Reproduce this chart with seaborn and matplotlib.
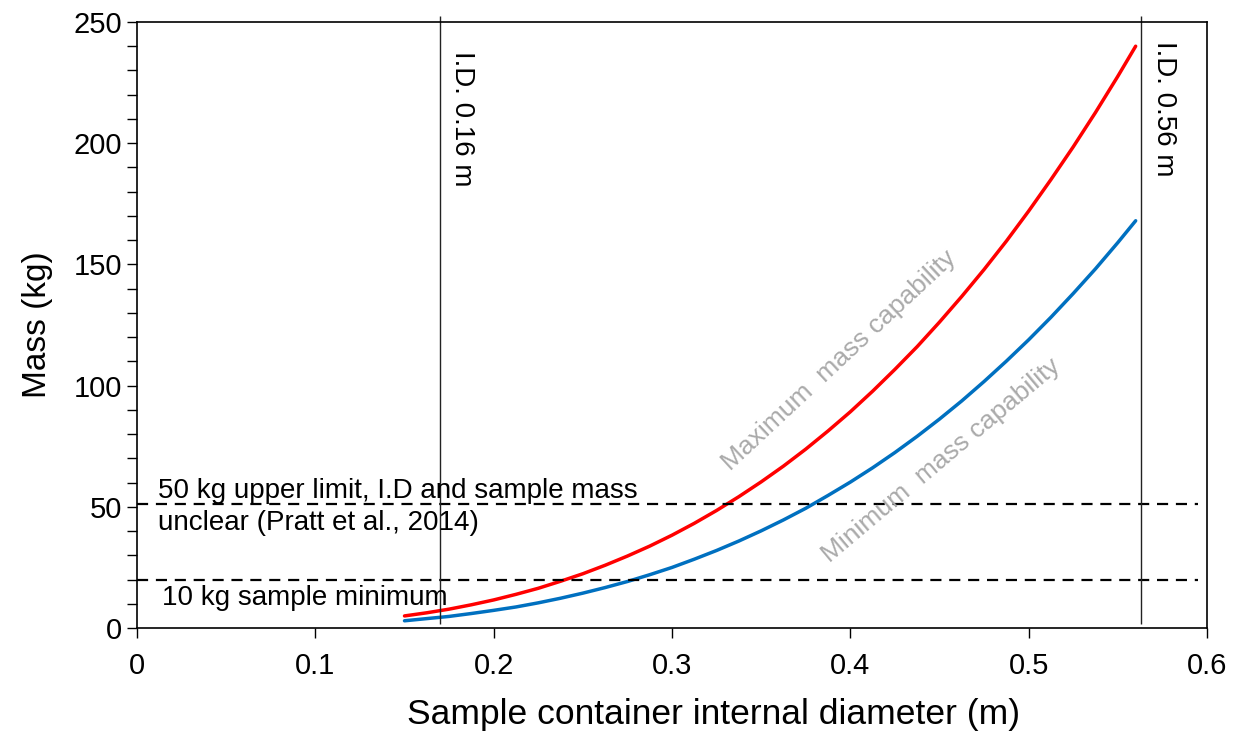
import numpy as np
import pandas as pd
import matplotlib
matplotlib.use('Agg')
import matplotlib.pyplot as plt
from matplotlib.ticker import MultipleLocator, FuncFormatter
import seaborn as sns

# values
diameter = [0.15, 0.1625, 0.175, 0.1875, 0.2, 0.2125, 0.225, 0.2375, 0.25, 0.2625,
            0.275, 0.2875, 0.3, 0.3125, 0.325, 0.3375, 0.35, 0.3625, 0.375, 0.3875,
            0.4, 0.4125, 0.425, 0.4375, 0.45, 0.4625, 0.475, 0.4875, 0.5, 0.5125,
            0.525, 0.5375, 0.55, 0.56]
max_mass = [5.0, 6.3, 7.8, 9.6, 11.6, 13.9, 16.4, 19.3, 22.4, 25.9,
            29.7, 33.8, 38.3, 43.2, 48.5, 54.2, 60.3, 66.8, 73.8, 81.3,
            89.2, 97.7, 106.7, 116.1, 126.2, 136.8, 147.9, 159.6, 172.0, 185.0,
            198.5, 212.7, 227.6, 240.0]
min_mass = [3.0, 3.9, 4.8, 6.0, 7.3, 8.7, 10.4, 12.3, 14.4, 16.7,
            19.2, 22.0, 25.0, 28.4, 32.0, 35.9, 40.1, 44.6, 49.4, 54.7,
            60.2, 66.1, 72.4, 79.1, 86.2, 93.7, 101.7, 110.1, 118.9, 128.2,
            138.0, 148.2, 159.0, 168.0]
id_lines = [0.17, 0.563]
id_labels = ['I.D. 0.16 m', 'I.D. 0.56 m']
limit_lines = [51, 20]

df = pd.DataFrame({'d': diameter * 2,
                   'mass': max_mass + min_mass,
                   'curve': ['max'] * len(diameter) + ['min'] * len(diameter)})

sns.set_style('ticks')
plt.rcParams['font.family'] = ['Liberation Sans', 'DejaVu Sans']
plt.rcParams['text.color'] = 'black'
plt.rcParams['axes.labelcolor'] = 'black'
plt.rcParams['xtick.color'] = 'black'
plt.rcParams['ytick.color'] = 'black'

fig = plt.figure(figsize=(12.41, 7.32), dpi=100)
ax = fig.add_axes([0.1104, 0.142, 0.8622, 0.828])

sns.lineplot(data=df, x='d', y='mass', hue='curve',
             palette={'max': '#ff0000', 'min': '#0070c0'},
             linewidth=2.5, legend=False, ax=ax)

ax.hlines(limit_lines, 0, 0.595, colors='black', linewidth=1.6,
          linestyles=(0, (5, 3.5)))
ax.vlines(id_lines, 1.5, 252.5, colors='#222222', linewidth=1.0, clip_on=False)

ax.text(id_lines[0] + 0.012, 238, id_labels[0], rotation=-90, ha='center', va='top', fontsize=20)
ax.text(id_lines[1] + 0.013, 242, id_labels[1], rotation=-90, ha='center', va='top', fontsize=20)

ax.text(0.012, 49.8, '50 kg upper limit, I.D and sample mass\nunclear (Pratt et al., 2014)',
        ha='left', va='center', fontsize=20, linespacing=1.3)
ax.text(0.014, 12.2, '10 kg sample minimum', ha='left', va='center', fontsize=20)

ax.text(0.394, 110.5, 'Maximum  mass capability', rotation=43, color='#aaaaaa',
        ha='center', va='center', rotation_mode='anchor', fontsize=19)
ax.text(0.451, 69, 'Minimum  mass capability', rotation=40, color='#aaaaaa',
        ha='center', va='center', rotation_mode='anchor', fontsize=19)

ax.set_xlim(0, 0.6)
ax.set_ylim(0, 250)
ax.xaxis.set_major_locator(MultipleLocator(0.1))
ax.yaxis.set_major_locator(MultipleLocator(50))
ax.yaxis.set_minor_locator(MultipleLocator(10))
ax.xaxis.set_major_formatter(FuncFormatter(lambda v, p: '%g' % round(v, 2)))
ax.tick_params(axis='both', which='major', labelsize=21, length=7, width=1, direction='out')
ax.tick_params(axis='x', which='major', pad=10)
ax.tick_params(axis='y', which='minor', length=7, width=1)

ax.set_xlabel('Sample container internal diameter (m)', fontsize=25.5)
ax.xaxis.set_label_coords(0.539, -0.116)
ax.set_ylabel('Mass (kg)', fontsize=24, labelpad=15)

for s in ax.spines.values():
    s.set_linewidth(1.2)
    s.set_color('black')

fig.savefig('out.png', dpi=100)
